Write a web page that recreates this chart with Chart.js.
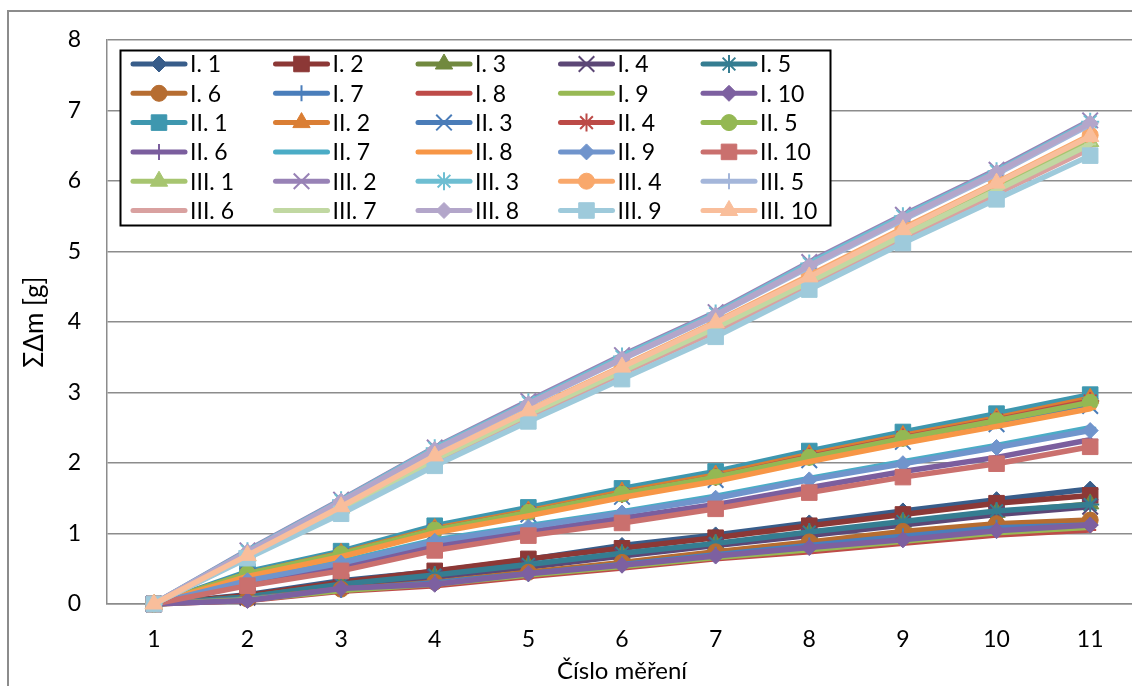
<!DOCTYPE html>
<html>
<head>
<meta charset="utf-8">
<script src="https://cdn.jsdelivr.net/npm/chart.js@4.4.1/dist/chart.umd.min.js"></script>
<style>
  html, body { margin: 0; padding: 0; overflow: hidden; background: #fff; width: 1132px; height: 686px; }
  canvas { position: absolute; left: 0; top: 0; }
</style>
</head>
<body>
<canvas id="chart" width="1160" height="700"></canvas>
<script>
// Measurement number (x axis)
const measurements = ['1', '2', '3', '4', '5', '6', '7', '8', '9', '10', '11'];
const yTicks = [0, 1, 2, 3, 4, 5, 6, 7, 8];

// Cumulative mass change ΣΔm [g] per sample
const I_1  = [0, 0.13, 0.33, 0.46, 0.63, 0.83, 0.98, 1.15, 1.32, 1.48, 1.63];
const I_2  = [0, 0.12, 0.31, 0.47, 0.64, 0.79, 0.94, 1.11, 1.27, 1.43, 1.54];
const I_3  = [0, 0.10, 0.27, 0.39, 0.54, 0.70, 0.85, 1.00, 1.16, 1.30, 1.42];
const I_4  = [0, 0.09, 0.26, 0.38, 0.52, 0.68, 0.83, 0.97, 1.12, 1.27, 1.38];
const I_5  = [0, 0.10, 0.28, 0.41, 0.56, 0.72, 0.86, 1.02, 1.17, 1.32, 1.41];
const I_6  = [0, 0.07, 0.21, 0.31, 0.45, 0.59, 0.74, 0.88, 1.03, 1.14, 1.19];
const I_7  = [0, 0.07, 0.20, 0.30, 0.43, 0.56, 0.70, 0.83, 0.96, 1.08, 1.12];
const I_8  = [0, 0.05, 0.18, 0.26, 0.39, 0.51, 0.64, 0.74, 0.86, 0.98, 1.05];
const I_9  = [0, 0.06, 0.19, 0.28, 0.41, 0.53, 0.66, 0.77, 0.89, 1.01, 1.09];
const I_10 = [0, 0.05, 0.22, 0.28, 0.43, 0.55, 0.68, 0.80, 0.91, 1.04, 1.12];

const II_1  = [0, 0.46, 0.75, 1.11, 1.37, 1.64, 1.88, 2.17, 2.44, 2.70, 2.97];
const II_2  = [0, 0.43, 0.72, 1.07, 1.32, 1.59, 1.83, 2.12, 2.39, 2.64, 2.92];
const II_3  = [0, 0.40, 0.68, 1.02, 1.27, 1.52, 1.76, 2.04, 2.30, 2.55, 2.81];
const II_4  = [0, 0.42, 0.70, 1.05, 1.30, 1.56, 1.80, 2.09, 2.36, 2.61, 2.88];
const II_5  = [0, 0.43, 0.71, 1.05, 1.30, 1.56, 1.80, 2.08, 2.35, 2.60, 2.86];
const II_6  = [0, 0.29, 0.53, 0.83, 1.02, 1.22, 1.41, 1.65, 1.88, 2.08, 2.33];
const II_7  = [0, 0.34, 0.60, 0.91, 1.11, 1.31, 1.53, 1.78, 2.02, 2.25, 2.50];
const II_8  = [0, 0.39, 0.67, 1.01, 1.25, 1.51, 1.74, 2.02, 2.28, 2.52, 2.77];
const II_9  = [0, 0.33, 0.58, 0.89, 1.09, 1.29, 1.50, 1.76, 1.99, 2.22, 2.46];
const II_10 = [0, 0.26, 0.47, 0.76, 0.97, 1.15, 1.35, 1.58, 1.80, 1.99, 2.23];

const III_1  = [0, 0.68, 1.36, 2.07, 2.71, 3.32, 3.94, 4.60, 5.26, 5.90, 6.56];
const III_2  = [0, 0.76, 1.48, 2.22, 2.88, 3.53, 4.14, 4.85, 5.52, 6.16, 6.86];
const III_3  = [0, 0.75, 1.47, 2.21, 2.86, 3.51, 4.12, 4.83, 5.50, 6.14, 6.84];
const III_4  = [0, 0.70, 1.39, 2.11, 2.75, 3.37, 4.00, 4.66, 5.33, 5.98, 6.65];
const III_5  = [0, 0.73, 1.45, 2.18, 2.83, 3.47, 4.09, 4.78, 5.45, 6.10, 6.80];
const III_6  = [0, 0.66, 1.32, 2.03, 2.66, 3.27, 3.87, 4.53, 5.19, 5.82, 6.46];
const III_7  = [0, 0.67, 1.34, 2.05, 2.69, 3.30, 3.92, 4.57, 5.23, 5.87, 6.52];
const III_8  = [0, 0.74, 1.46, 2.19, 2.84, 3.48, 4.10, 4.80, 5.47, 6.12, 6.82];
const III_9  = [0, 0.65, 1.28, 1.96, 2.59, 3.19, 3.79, 4.46, 5.12, 5.74, 6.36];
const III_10 = [0, 0.69, 1.38, 2.10, 2.74, 3.36, 3.99, 4.64, 5.31, 5.97, 6.63];

const seriesNames = [
  'I. 1', 'I. 2', 'I. 3', 'I. 4', 'I. 5', 'I. 6', 'I. 7', 'I. 8', 'I. 9', 'I. 10',
  'II. 1', 'II. 2', 'II. 3', 'II. 4', 'II. 5', 'II. 6', 'II. 7', 'II. 8', 'II. 9', 'II. 10',
  'III. 1', 'III. 2', 'III. 3', 'III. 4', 'III. 5', 'III. 6', 'III. 7', 'III. 8', 'III. 9', 'III. 10'
];
const seriesValues = [
  I_1, I_2, I_3, I_4, I_5, I_6, I_7, I_8, I_9, I_10,
  II_1, II_2, II_3, II_4, II_5, II_6, II_7, II_8, II_9, II_10,
  III_1, III_2, III_3, III_4, III_5, III_6, III_7, III_8, III_9, III_10
];

// Series colours and marker shapes
const seriesColors = [
  '#385D8A', '#8C3836', '#71893F', '#5C4776', '#357D91', '#B66D31', '#4A7EBB', '#BE4B48', '#98B954', '#7D60A0',
  '#3E97AF', '#DA7E34', '#4A7CB8', '#BC4A47', '#94B853', '#7B5E9E', '#4BACC6', '#F79646', '#7094CC', '#CA706E',
  '#A7C570', '#9882B6', '#6EBED2', '#F9A86B', '#A4B6DA', '#D9A1A0', '#C1D8A2', '#B3A6CA', '#9ECADB', '#F9BE9B'
];
const markerCycle = ['rectRot', 'rect', 'triangle', 'crossRot', 'star', 'circle', 'cross', 'line', 'line'];
const markerRadius = { rectRot: 8, rect: 11, triangle: 10, crossRot: 11, star: 9, circle: 8, cross: 8, line: 6 };
const markerBorder = { rectRot: 1, rect: 1, triangle: 1, crossRot: 2, star: 2, circle: 1, cross: 2, line: 2 };

const FONT = "Lato, 'Open Sans', 'DejaVu Sans', sans-serif";

const datasets = seriesValues.map((vals, i) => {
  const style = markerCycle[i % markerCycle.length];
  const col = seriesColors[i];
  return {
    label: seriesNames[i],
    data: vals,
    borderColor: col,
    backgroundColor: col,
    borderWidth: 5.5,
    borderJoinStyle: 'round',
    borderCapStyle: 'round',
    tension: 0,
    pointStyle: style,
    pointRadius: markerRadius[style],
    pointHoverRadius: markerRadius[style],
    pointBackgroundColor: col,
    pointBorderColor: col,
    pointBorderWidth: markerBorder[style],
    clip: false,
    order: seriesValues.length - i
  };
});

// Outer frame of the chart
const framePlugin = {
  id: 'frame',
  beforeDraw(chart) {
    const ctx = chart.ctx;
    ctx.save();
    ctx.fillStyle = '#fff';
    ctx.fillRect(0, 0, chart.width, chart.height);
    ctx.strokeStyle = '#8c8c8c';
    ctx.lineWidth = 2;
    ctx.strokeRect(8, 11, chart.width + 50, chart.height + 50);
    ctx.restore();
  }
};

// Boxed legend in five columns inside the plot
const boxLegendPlugin = {
  id: 'boxLegend',
  afterDraw(chart) {
    const ctx = chart.ctx;
    const box = { x: 120.5, y: 50.5, w: 710, h: 175 };
    const colX = [131, 273.5, 416, 558.5, 701];
    const row0 = 64, rowStep = 29.3;
    ctx.save();
    ctx.fillStyle = '#fff';
    ctx.fillRect(box.x, box.y, box.w, box.h);
    ctx.strokeStyle = '#000';
    ctx.lineWidth = 2;
    ctx.strokeRect(box.x, box.y, box.w, box.h);
    chart.data.datasets.forEach((ds, i) => {
      const x0 = colX[i % 5];
      const y = row0 + Math.floor(i / 5) * rowStep;
      ctx.strokeStyle = ds.borderColor;
      ctx.lineWidth = 5;
      ctx.lineCap = 'round';
      ctx.beginPath();
      ctx.moveTo(x0 + 2, y);
      ctx.lineTo(x0 + 54, y);
      ctx.stroke();
      if (ds.pointStyle !== 'line') {
        ctx.fillStyle = ds.pointBackgroundColor;
        ctx.strokeStyle = ds.pointBorderColor;
        ctx.lineWidth = ds.pointBorderWidth;
        ctx.lineCap = 'butt';
        Chart.helpers.drawPoint(ctx, {
          pointStyle: ds.pointStyle,
          radius: ds.pointRadius,
          rotation: 0,
          borderWidth: ds.pointBorderWidth
        }, x0 + 28, y);
      }
      ctx.fillStyle = '#000';
      ctx.font = '23px ' + FONT;
      ctx.textAlign = 'left';
      ctx.textBaseline = 'middle';
      ctx.fillText(ds.label, x0 + 59, y + 1);
    });
    ctx.restore();
  }
};

new Chart(document.getElementById('chart'), {
  type: 'line',
  data: { labels: measurements, datasets },
  plugins: [framePlugin, boxLegendPlugin],
  options: {
    responsive: false,
    animation: false,
    devicePixelRatio: 1,
    layout: { padding: { left: 8, top: 40, right: 23, bottom: 14 } },
    plugins: {
      legend: { display: false },
      tooltip: { enabled: false },
      title: { display: false }
    },
    scales: {
      x: {
        type: 'category',
        offset: true,
        grid: { display: false, drawTicks: false },
        border: { display: true, color: '#8c8c8c', width: 1.5 },
        ticks: { color: '#000', font: { family: FONT, size: 23 }, padding: 22, maxRotation: 0, autoSkip: false },
        title: { display: true, text: 'Číslo měření', color: '#000', font: { family: FONT, size: 24 }, padding: { top: 0, bottom: 0 } },
        afterFit(s) { s.height = 82; }
      },
      y: {
        min: yTicks[0],
        max: yTicks[yTicks.length - 1],
        afterBuildTicks(s) { s.ticks = yTicks.map(v => ({ value: v })); },
        grid: { color: '#8c8c8c', lineWidth: 1.5, drawTicks: false },
        border: { display: true, color: '#8c8c8c', width: 1.5 },
        ticks: { color: '#000', font: { family: FONT, size: 23 }, padding: 26 },
        title: { display: true, text: 'ΣΔm [g]', color: '#000', font: { family: FONT, size: 26 }, padding: { top: 11, bottom: 0 } },
        afterFit(s) { s.width = 99; }
      }
    }
  }
});
</script>
</body>
</html>
